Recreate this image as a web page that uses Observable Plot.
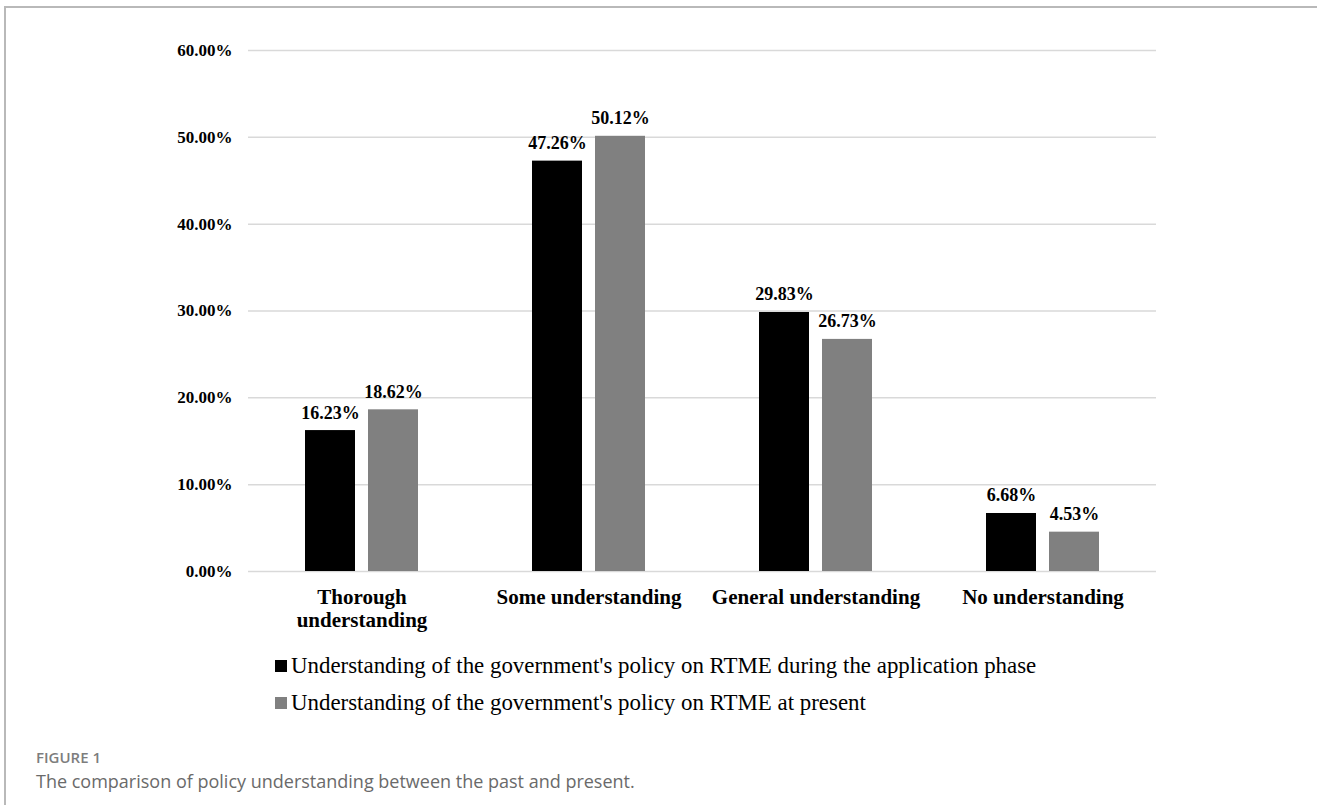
<!DOCTYPE html>
<html>
<head>
<meta charset="utf-8">
<script src="https://cdn.jsdelivr.net/npm/d3@7"></script>
<script src="https://cdn.jsdelivr.net/npm/@observablehq/plot@0.6"></script>
<style>
  html, body { margin: 0; padding: 0; background: #fff; }
  body { width: 1317px; height: 805px; position: relative; overflow: hidden; }
  #frame { position: absolute; left: 4px; top: 6px; width: 1400px; height: 900px;
           border-top: 2px solid #b9b9b9; border-left: 2px solid #b9b9b9; box-sizing: border-box; }
  #chart { position: absolute; left: 0; top: 0; }
  #legend { position: absolute; left: 275px; top: 647px; font-family: "Liberation Serif", "Times New Roman", serif;
            font-size: 22.9px; color: #000; }
  .row { display: flex; align-items: center; height: 37px; white-space: nowrap; }
  .sw { width: 12px; height: 12px; margin-right: 4px; margin-top: 1px; }
  #figlabel { position: absolute; left: 36px; top: 747px; font-family: "Open Sans", Lato, sans-serif;
              font-size: 15px; font-weight: 600; color: #7d7d7d; }
  #figcap { position: absolute; left: 36px; top: 769px; font-family: "Open Sans", Lato, sans-serif;
            font-size: 18px; color: #6a6a6a; white-space: nowrap; }
</style>
</head>
<body>
<div id="frame"></div>
<div id="chart"></div>
<div id="legend"></div>
<div id="figlabel">FIGURE 1</div>
<div id="figcap">The comparison of policy understanding between the past and present.</div>
<script>
const categories = ["Thorough understanding", "Some understanding", "General understanding", "No understanding"];
const categoryLabels = ["Thorough\nunderstanding", "Some understanding", "General understanding", "No understanding"];
const seriesNames = [
  "Understanding of the government's policy on RTME during the application phase",
  "Understanding of the government's policy on RTME at present"
];
const pastValues = [16.23, 47.26, 29.83, 6.68];
const presentValues = [18.62, 50.12, 26.73, 4.53];
const yTicks = [0, 10, 20, 30, 40, 50, 60];
const seriesColors = ["#000000", "#808080"];

const data = [];
categories.forEach((c, i) => {
  data.push({cat: c, series: seriesNames[0], value: pastValues[i]});
  data.push({cat: c, series: seriesNames[1], value: presentValues[i]});
});
const labelOf = new Map(categories.map((c, i) => [c, categoryLabels[i]]));

const chart = Plot.plot({
  width: 1317,
  height: 640,
  marginLeft: 248,
  marginRight: 161,
  marginTop: 50,
  marginBottom: 69,
  style: {fontFamily: "'Liberation Serif', 'Times New Roman', serif", background: "transparent"},
  fx: {domain: categories, padding: 0, label: null},
  x: {domain: seriesNames, axis: null, paddingInner: 0.2, paddingOuter: 0.875},
  y: {domain: [0, 60], label: null},
  color: {domain: seriesNames, range: seriesColors},
  marks: [
    Plot.gridY(yTicks, {stroke: "#d9d9d9", strokeOpacity: 1, strokeWidth: 1.5}),
    Plot.barY(data, {fx: "cat", x: "series", y: "value", fill: "series"}),
    Plot.text(data, {fx: "cat", x: "series", y: "value", text: d => d.value.toFixed(2) + "%",
      lineAnchor: "bottom", dy: -12, fontSize: 18, fontWeight: "bold", fill: "#000"}),
    Plot.axisY(yTicks, {tickSize: 0, tickPadding: 16, tickFormat: d => d.toFixed(2) + "%",
      fontSize: 17, fontWeight: "bold", fill: "#000", label: null}),
    Plot.axisFx({anchor: "bottom", tickSize: 0, tickPadding: 16, tickFormat: d => labelOf.get(d),
      fontSize: 21, fontWeight: "bold", fill: "#000", lineHeight: 1.1, label: null})
  ]
});
document.getElementById("chart").appendChild(chart);

const legend = document.getElementById("legend");
seriesNames.forEach((s, i) => {
  const row = document.createElement("div");
  row.className = "row";
  const sw = document.createElement("div");
  sw.className = "sw";
  sw.style.background = seriesColors[i];
  const t = document.createElement("span");
  t.textContent = s;
  row.appendChild(sw);
  row.appendChild(t);
  legend.appendChild(row);
});
</script>
</body>
</html>
